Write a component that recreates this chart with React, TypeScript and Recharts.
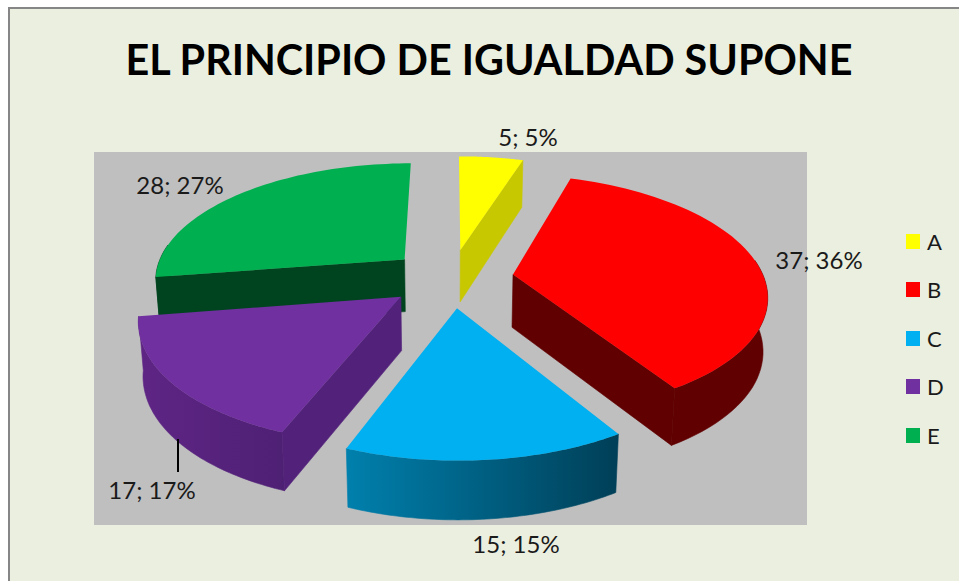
import React from "react";
import { PieChart, Pie, Legend } from "recharts";

const categories = ["A", "B", "C", "D", "E"];
const counts = [5, 37, 15, 17, 28];
const topColors = ["#ffff00", "#ff0000", "#00b0f0", "#7030a0", "#00b050"];
const wallColors = ["#c8c800", "#600000", "#004a66", "#52217a", "#00441f"];
const rimFrom = ["#c8c800", "#600000", "#0080ad", "#5f2585", "#00441f"];
const rimTo = ["#c8c800", "#600000", "#003f57", "#4e2074", "#00441f"];

// drawn back to front and counter-clockwise, so D sits over E like in the original
const rows = categories
  .map((name, i) => ({ name, value: counts[i], fill: topColors[i], wall: wallColors[i], from: rimFrom[i], to: rimTo[i] }))
  .reverse();

const FONT = "Lato, sans-serif";
const explode = 0.25;
const tiltY = 117;
const persp = 0.16;

// hand placed label anchors, as the chart has them outside or inside depending on the slice
const labelSpots: Record<string, number[]> = {
  A: [528, 136],
  B: [819, 259],
  C: [516, 543],
  D: [152, 489],
  E: [180, 184],
};

function SliceShape(props: any) {
  const { cx, cy, outerRadius, startAngle, endAngle, fill, payload, name } = props;
  const id = "rim" + (name ?? payload?.name);
  const wall = payload?.wall ?? props.wall;
  const rad = (d: number) => (d * Math.PI) / 180;
  const mid = rad((startAngle + endAngle) / 2);
  const ou = explode * Math.cos(mid);
  const ov = explode * Math.sin(mid);

  const top = (u: number, v: number) => {
    const s = 1 / (1 + persp * v);
    return [cx + outerRadius * u * s, cy - tiltY * v * s];
  };
  const bottom = (u: number, v: number) => {
    const [x, y] = top(u, v);
    return [cx + (x - cx) * 0.985, y + 53 - 5 * v];
  };
  const at = (deg: number, r = 1) => [ou + r * Math.cos(rad(deg)), ov + r * Math.sin(rad(deg))];

  const steps = 60;
  const arc: number[][] = [];
  const frontArc: number[][] = [];
  for (let i = 0; i <= steps; i++) {
    const deg = startAngle + ((endAngle - startAngle) * i) / steps;
    arc.push(at(deg));
    // only the part of the rim that faces the viewer gets a wall
    if (Math.sin(rad(deg)) < 0.15) frontArc.push(at(deg));
  }
  const apex = at(0, 0);

  const toPath = (pts: number[][]) => "M" + pts.map((p) => p[0].toFixed(1) + "," + p[1].toFixed(1)).join("L") + "Z";
  const project = (f: typeof top, list: number[][]) => list.map((p) => f(p[0], p[1]));

  const sideQuad = (p: number[]) => [top(apex[0], apex[1]), top(p[0], p[1]), bottom(p[0], p[1]), bottom(apex[0], apex[1])];

  // a cut face only shows if it looks downwards on screen
  const middle = top(arc[30][0], arc[30][1]);
  const sideShows = (p: number[]) => {
    const a = top(apex[0], apex[1]);
    const b = top(p[0], p[1]);
    const ex = b[0] - a[0];
    const ey = b[1] - a[1];
    let nx = ey;
    let ny = -ex;
    if (nx * (middle[0] - a[0]) + ny * (middle[1] - a[1]) > 0) {
      nx = -nx;
      ny = -ny;
    }
    return ny / Math.hypot(nx, ny) > 0.1;
  };

  const first = arc[0];
  const last = arc[arc.length - 1];
  const rim = [...project(top, frontArc), ...project(bottom, frontArc).reverse()];

  return (
    <g>
      <defs>
        <linearGradient id={id} x1="0" y1="0" x2="1" y2="0">
          <stop offset="0%" stopColor={payload?.from ?? props.from} />
          <stop offset="100%" stopColor={payload?.to ?? props.to} />
        </linearGradient>
      </defs>
      {rim.length > 0 && <path d={toPath(rim)} fill={`url(#${id})`} stroke={`url(#${id})`} strokeWidth={0.6} />}
      {sideShows(first) && <path d={toPath(sideQuad(first))} fill={wall} stroke={wall} strokeWidth={0.6} />}
      {sideShows(last) && <path d={toPath(sideQuad(last))} fill={wall} stroke={wall} strokeWidth={0.6} />}
      <path d={toPath([top(apex[0], apex[1]), ...project(top, arc)])} fill={fill} />
    </g>
  );
}

function SliceLabel(props: any) {
  const { name, value, percent } = props;
  const [x, y] = labelSpots[name];
  return (
    <g>
      {name === "D" && <line x1={178} y1={439} x2={178} y2={472} stroke="#000" strokeWidth={2} />}
      <text x={x} y={y} textAnchor="middle" dominantBaseline="central" fontFamily={FONT} fontSize={24} fill="#1a1a1a">
        {`${value}; ${Math.round(percent * 100)}%`}
      </text>
    </g>
  );
}

function LegendBox({ payload }: any) {
  const items = [...(payload ?? [])].sort((a: any, b: any) => String(a.value).localeCompare(String(b.value)));
  return (
    <div>
      {items.map((it: any) => (
        <div key={it.value} style={{ height: 48.5, display: "flex", alignItems: "center" }}>
          <span style={{ width: 14, height: 15, background: it.color, display: "inline-block", marginRight: 7 }} />
          <span style={{ fontFamily: FONT, fontSize: 22, color: "#1a1a1a" }}>{it.value}</span>
        </div>
      ))}
    </div>
  );
}

export default function App() {
  return (
    <div style={{ position: "absolute", left: 0, top: 0, width: 959, height: 581, overflow: "hidden" }}>
      <PieChart width={959} height={581} margin={{ top: 0, right: 0, bottom: 0, left: 0 }}>
        <rect x={9} y={8} width={980} height={600} fill="#ebefdf" stroke="#868686" strokeWidth={2} />
        <rect x={94} y={152} width={713} height={373} fill="#bfbfbf" />
        <text x={489} y={58.5} textAnchor="middle" dominantBaseline="central" fontFamily={FONT} fontWeight={700} fontSize={41.3} fill="#000">
          EL PRINCIPIO DE IGUALDAD SUPONE
        </text>
        <Pie
          data={rows}
          dataKey="value"
          nameKey="name"
          cx={451}
          cy={278}
          outerRadius={251}
          startAngle={90}
          endAngle={450}
          paddingAngle={0}
          stroke="none"
          label={SliceLabel}
          labelLine={false}
          shape={SliceShape}
          isAnimationActive={false}
        />
        <Legend
          layout="vertical"
          content={LegendBox}
          wrapperStyle={{ position: "absolute", left: 906, top: 217, width: 50 }}
        />
      </PieChart>
    </div>
  );
}
